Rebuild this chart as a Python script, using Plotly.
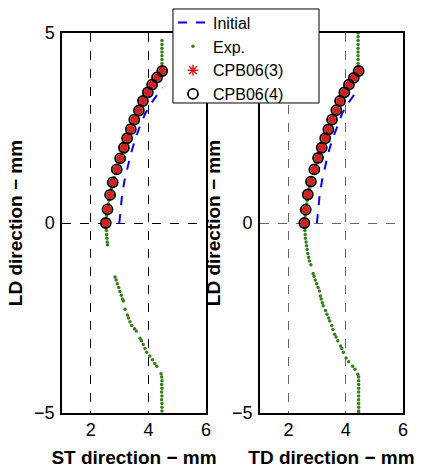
import plotly.graph_objects as go

# ---------------- data ----------------
# Left panel (ST direction)
st_init_x = [2.99, 3.03, 3.09, 3.17, 3.27, 3.39, 3.53, 3.69, 3.89, 4.09, 4.29, 4.49]
st_init_y = [0.00, 0.41, 0.76, 1.12, 1.47, 1.82, 2.17, 2.52, 2.88, 3.14, 3.36, 3.56]

st_cpb_x = [2.52, 2.58, 2.67, 2.76, 2.90, 3.02, 3.15, 3.26, 3.39, 3.51, 3.67, 3.81, 3.98, 4.13, 4.30, 4.48]
st_cpb_y = [0.00, 0.36, 0.74, 1.07, 1.41, 1.70, 1.98, 2.23, 2.47, 2.72, 2.96, 3.21, 3.44, 3.64, 3.83, 4.00]

st_exp_x = [4.47, 4.47, 4.47, 4.47, 4.47, 4.47, 4.47, 4.47,
            4.38, 4.28, 4.18, 4.10, 4.03, 3.95, 3.88, 3.80, 3.74, 3.69,
            3.63, 3.56, 3.50, 3.45, 3.40, 3.35, 3.30, 3.25, 3.20, 3.16,
            3.12, 3.07, 3.02, 2.98, 2.94, 2.90, 2.86, 2.81, 2.77, 2.74,
            2.71, 2.68, 2.66, 2.63, 2.61, 2.59, 2.57, 2.55, 2.54, 2.52,
            2.53, 2.54, 2.55, 2.56, 2.57, 2.58,
            2.84, 2.88, 2.92, 2.97, 3.01, 3.06, 3.10, 3.13,
            3.19,
            3.27, 3.31, 3.36, 3.42, 3.52, 3.58,
            3.71, 3.76, 3.82, 3.88, 3.94, 4.05, 4.14, 4.22, 4.29,
            4.44, 4.46, 4.47, 4.46, 4.47, 4.46, 4.47, 4.46, 4.47, 4.47, 4.47]
st_exp_y = [4.80, 4.70, 4.60, 4.50, 4.40, 4.30, 4.20, 4.10,
            3.90, 3.80, 3.70, 3.60, 3.50, 3.40, 3.30, 3.20, 3.10, 3.00,
            2.90, 2.80, 2.70, 2.60, 2.50, 2.40, 2.30, 2.20, 2.10, 2.00,
            1.90, 1.80, 1.70, 1.60, 1.50, 1.40, 1.30, 1.20, 1.10, 1.00,
            0.90, 0.80, 0.70, 0.60, 0.50, 0.40, 0.30, 0.20, 0.10, 0.00,
            -0.10, -0.20, -0.30, -0.40, -0.50, -0.57,
            -1.42, -1.50, -1.60, -1.70, -1.80, -1.90, -2.00, -2.05,
            -2.27,
            -2.42, -2.50, -2.60, -2.70, -2.78, -2.84,
            -3.03, -3.10, -3.20, -3.30, -3.40, -3.50, -3.60, -3.70, -3.77,
            -3.97, -4.05, -4.15, -4.25, -4.35, -4.45, -4.55, -4.65, -4.75, -4.85, -4.95]

# Right panel (TD direction)
td_init_x = [2.99, 3.03, 3.09, 3.17, 3.27, 3.38, 3.52, 3.68, 3.87, 4.07, 4.27, 4.47]
td_init_y = [0.00, 0.41, 0.76, 1.12, 1.47, 1.82, 2.17, 2.52, 2.88, 3.14, 3.36, 3.56]

td_cpb_x = [2.55, 2.60, 2.67, 2.78, 2.90, 3.03, 3.16, 3.28, 3.39, 3.52, 3.67, 3.80, 3.95, 4.11, 4.28, 4.45]
td_cpb_y = [0.00, 0.35, 0.75, 1.09, 1.41, 1.71, 1.98, 2.23, 2.46, 2.72, 2.97, 3.21, 3.44, 3.64, 3.82, 4.00]

td_exp_x = [4.43, 4.43, 4.43, 4.43, 4.43, 4.43, 4.43, 4.43, 4.43, 4.43,
            4.36, 4.27, 4.18, 4.10, 4.02, 3.95, 3.88, 3.81, 3.75, 3.69,
            3.63, 3.57, 3.51, 3.46, 3.40, 3.35, 3.30, 3.25, 3.20, 3.16,
            3.12, 3.07, 3.03, 2.99, 2.94, 2.90, 2.86, 2.82, 2.78, 2.75,
            2.72, 2.69, 2.67, 2.65, 2.63, 2.61, 2.60, 2.58, 2.56, 2.55,
            2.56, 2.57, 2.58, 2.59, 2.61, 2.63, 2.65, 2.67, 2.70, 2.73, 2.78,
            2.86, 2.89, 2.93, 2.98, 3.03, 3.08,
            3.11, 3.14, 3.18, 3.21,
            3.29, 3.34, 3.40, 3.44, 3.51, 3.55, 3.61, 3.66, 3.72, 3.82,
            3.86, 3.92, 4.01, 4.10, 4.24, 4.32, 4.42,
            4.45, 4.45, 4.45, 4.45, 4.45, 4.45, 4.45, 4.45, 4.45, 4.45, 4.45]
td_exp_y = [5.00, 4.90, 4.80, 4.70, 4.60, 4.50, 4.40, 4.30, 4.20, 4.10,
            3.90, 3.80, 3.70, 3.60, 3.50, 3.40, 3.30, 3.20, 3.10, 3.00,
            2.90, 2.80, 2.70, 2.60, 2.50, 2.40, 2.30, 2.20, 2.10, 2.00,
            1.90, 1.80, 1.70, 1.60, 1.50, 1.40, 1.30, 1.20, 1.10, 1.00,
            0.90, 0.80, 0.70, 0.60, 0.50, 0.40, 0.30, 0.20, 0.10, 0.00,
            -0.10, -0.20, -0.30, -0.40, -0.50, -0.60, -0.70, -0.80, -0.90, -1.00, -1.10,
            -1.33, -1.40, -1.50, -1.60, -1.70, -1.79,
            -1.92, -2.00, -2.10, -2.18,
            -2.30, -2.40, -2.50, -2.58, -2.70, -2.80, -2.93, -3.00, -3.10, -3.24,
            -3.30, -3.40, -3.55, -3.65, -3.77, -3.85, -3.98,
            -4.05, -4.15, -4.25, -4.35, -4.45, -4.55, -4.65, -4.75, -4.85, -4.95, -5.00]

x_ticks = [2, 4, 6]
y_ticks = [-5, 0, 5]
x_titles = ["ST direction − mm", "TD direction − mm"]
y_title = "LD direction − mm"
legend_names = ["Initial", "Exp.", "CPB06(3)", "CPB06(4)"]

# ---------------- figure ----------------
FONT = "Liberation Sans, Arial, Helvetica, sans-serif"
BLUE = "#0000ff"
GREEN = "#3a7d1b"
RED = "#d42020"

fig = go.Figure()

panels = [
    (st_init_x, st_init_y, st_exp_x, st_exp_y, st_cpb_x, st_cpb_y, "x", "y"),
    (td_init_x, td_init_y, td_exp_x, td_exp_y, td_cpb_x, td_cpb_y, "x2", "y2"),
]
for i, (ix, iy, ex, ey, cx, cy, xa, ya) in enumerate(panels):
    show = (i == 0)
    fig.add_trace(go.Scatter(x=ix, y=iy, mode="lines", name=legend_names[0],
                             line=dict(color=BLUE, width=2, dash="dash"),
                             xaxis=xa, yaxis=ya, showlegend=show, legendgroup="init"))
    fig.add_trace(go.Scatter(x=ex, y=ey, mode="markers", name=legend_names[1],
                             marker=dict(color=GREEN, size=3.5, symbol="circle"),
                             xaxis=xa, yaxis=ya, showlegend=show, legendgroup="exp"))
    fig.add_trace(go.Scatter(x=cx, y=cy, mode="markers", name=legend_names[2],
                             marker=dict(color=RED, size=8, symbol="circle"),
                             xaxis=xa, yaxis=ya, showlegend=False, legendgroup="c3"))
    if show:
        fig.add_trace(go.Scatter(x=[None], y=[None], mode="markers", name=legend_names[2],
                                 marker=dict(color=RED, size=9, symbol="asterisk-open",
                                             line=dict(color=RED, width=1.5)),
                                 xaxis=xa, yaxis=ya, showlegend=True, legendgroup="c3"))
    fig.add_trace(go.Scatter(x=cx, y=cy, mode="markers", name=legend_names[3],
                             marker=dict(color="black", size=10, symbol="circle-open",
                                         line=dict(color="black", width=1.8)),
                             xaxis=xa, yaxis=ya, showlegend=show, legendgroup="c4"))

axis_common = dict(range=[1, 6], tickvals=x_ticks, showline=True, linecolor="black",
                   linewidth=1.5, mirror=True, ticks="", zeroline=False,
                   showgrid=True, griddash="dash", gridwidth=1,
                   tickfont=dict(size=18, color="black", family=FONT),
                   title_font=dict(size=19, color="black", family=FONT))
yaxis_common = dict(range=[-5, 5], tickvals=y_ticks, showline=True, linecolor="black",
                    linewidth=1.5, mirror=True, ticks="", zeroline=False,
                    showgrid=True, griddash="dash", gridwidth=1, ticklabelstandoff=2,
                    tickfont=dict(size=18, color="black", family=FONT),
                    title_font=dict(size=19, color="black", family=FONT))

# legend frame (white box drawn over the plots, like the reference)
fig.add_shape(type="rect", xref="paper", yref="paper",
              x0=0.3255, x1=0.7537, y0=0.8158, y1=1.0632,
              fillcolor="white", line=dict(color="black", width=1), layer="above")

fig.update_layout(
    width=425, height=472,
    margin=dict(l=62, r=22, t=33, b=59, autoexpand=False),
    paper_bgcolor="white", plot_bgcolor="white",
    font=dict(family=FONT, size=18, color="black"),
    xaxis=dict(axis_common, domain=[0, 0.4223], gridcolor="black",
               title=dict(text="<b>" + x_titles[0] + "</b>", standoff=11)),
    xaxis2=dict(axis_common, domain=[0.5806, 1], anchor="y2", gridcolor="#666666",
                title=dict(text="<b>" + x_titles[1] + "</b>", standoff=11)),
    yaxis=dict(yaxis_common, domain=[0, 1], gridcolor="black",
               title=dict(text="<b>" + y_title + "</b>", standoff=6)),
    yaxis2=dict(yaxis_common, domain=[0, 1], anchor="x2", gridcolor="#666666",
                title=dict(text="<b>" + y_title + "</b>", standoff=6)),
    legend=dict(x=0.3255, y=1.072, xanchor="left", yanchor="top",
                bgcolor="rgba(0,0,0,0)", borderwidth=0,
                font=dict(size=16, family=FONT, color="black"),
                tracegroupgap=0, itemwidth=30),
    showlegend=True,
)

fig.write_html("out.html", post_script="document.body.style.margin='0';",
               config={"displayModeBar": False})
